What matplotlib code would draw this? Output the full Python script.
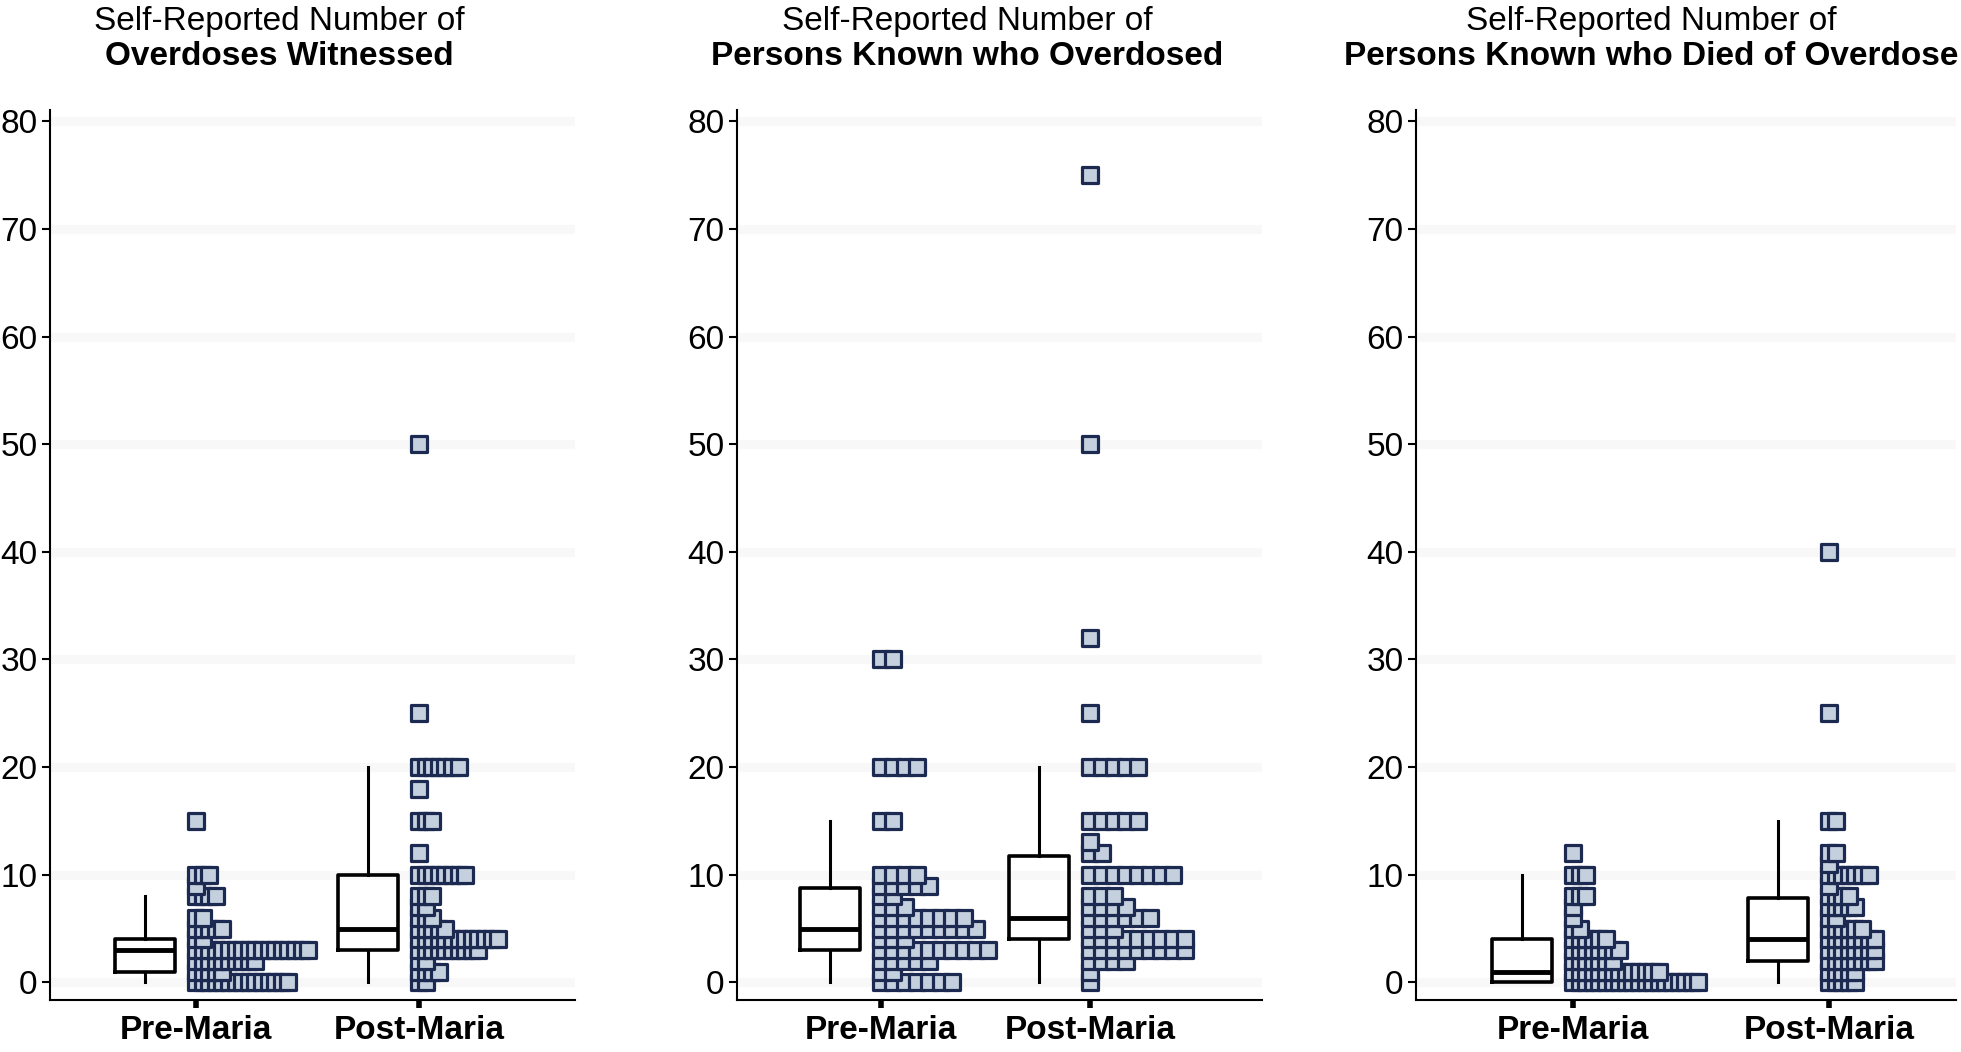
import matplotlib
matplotlib.use('Agg')
import matplotlib.pyplot as plt

plt.rcParams['font.family'] = ['Liberation Sans', 'DejaVu Sans']

# ---------------- data ----------------
categories = ['Pre-Maria', 'Post-Maria']
title_line1 = ['Self-Reported Number of', 'Self-Reported Number of', 'Self-Reported Number of']
title_line2 = ['Overdoses Witnessed', 'Persons Known who Overdosed',
               'Persons Known who Died of Overdose']
y_ticks = [0, 10, 20, 30, 40, 50, 60, 70, 80]

# panel 1: overdoses witnessed
p1_pre_values = [0, 1, 2, 3, 4, 5, 6, 8, 9, 10, 15]
p1_pre_counts = [15, 5, 10, 18, 2, 5, 2, 4, 1, 3, 1]
p1_post_values = [0, 1, 2, 3, 4, 5, 6, 7, 8, 10, 12, 15, 18, 20, 25, 50]
p1_post_counts = [2, 4, 2, 10, 13, 5, 3, 2, 3, 8, 1, 3, 1, 7, 1, 1]

# panel 2: persons known who overdosed
p2_pre_values = [0, 1, 2, 3, 4, 5, 6, 7, 8, 9, 10, 15, 20, 30]
p2_pre_counts = [7, 2, 5, 10, 3, 9, 8, 3, 2, 5, 4, 2, 4, 2]
p2_post_values = [0, 1, 2, 3, 4, 5, 6, 7, 8, 10, 12, 13, 15, 20, 25, 32, 50, 75]
p2_post_counts = [1, 1, 4, 9, 9, 3, 6, 4, 3, 8, 2, 1, 5, 5, 1, 1, 1, 1]

# panel 3: persons known who died of overdose
p3_pre_values = [0, 1, 2, 3, 4, 5, 6, 7, 8, 10, 12]
p3_pre_counts = [20, 14, 7, 8, 6, 2, 1, 1, 3, 3, 1]
p3_post_values = [0, 1, 2, 3, 4, 5, 6, 7, 8, 9, 10, 11, 12, 15, 25, 40]
p3_post_counts = [5, 5, 8, 8, 8, 6, 2, 5, 4, 1, 7, 1, 2, 2, 1, 1]

# box plot statistics [whisker low, q1, median, q3, whisker high]
p1_pre_box = [0, 1, 3, 4, 8]
p1_post_box = [0, 3, 5, 10, 20]
p2_pre_box = [0, 3, 5, 8.75, 15]
p2_post_box = [0, 4, 6, 11.75, 20]
p3_pre_box = [0, 0, 1, 4, 10]
p3_post_box = [0, 2, 4, 7.8, 15]

panels = [
    ((p1_pre_values, p1_pre_counts, p1_pre_box), (p1_post_values, p1_post_counts, p1_post_box)),
    ((p2_pre_values, p2_pre_counts, p2_pre_box), (p2_post_values, p2_post_counts, p2_post_box)),
    ((p3_pre_values, p3_pre_counts, p3_pre_box), (p3_post_values, p3_post_counts, p3_post_box)),
]

# ---------------- layout (pixels) ----------------
W, H = 1961, 1052
axis_left = [50, 737, 1416]
axis_right = [575, 1262, 1956]
pre_px = [196, 881, 1573]
post_px = [419, 1090, 1829]
step_px = [6.6, 11.9, 6.6]       # horizontal stacking step of the squares
title_cx = [279, 967, 1651]
ax_top_px, ax_bot_px = 110, 1000
ylim = (-1.63, 81.04)

fill_c = '#c5d0de'
edge_c = '#1c2a52'
grid_c = '#f8f8f8'

fig = plt.figure(figsize=(W / 100, H / 100), dpi=100)

for i, groups in enumerate(panels):
    left = axis_left[i]
    width = axis_right[i] - left
    ax = fig.add_axes([left / W, 1 - ax_bot_px / H, width / W, (ax_bot_px - ax_top_px) / H])
    ppu = post_px[i] - pre_px[i]          # pixels per category unit
    ax.set_xlim((left - pre_px[i]) / ppu, (axis_right[i] - pre_px[i]) / ppu)
    ax.set_ylim(*ylim)

    for v in y_ticks:
        ax.axhline(v, color=grid_c, lw=6.5, zorder=0)

    for pos, (vals, cnts, box) in enumerate(groups):
        xs, ys = [], []
        for v, c in zip(vals, cnts):
            for k in range(c):
                xs.append(pos + k * step_px[i] / ppu)
                ys.append(v)
        ax.scatter(xs, ys, marker='s', s=11.6 ** 2, facecolor=fill_c,
                   edgecolor=edge_c, linewidths=2.3, zorder=3, clip_on=False)
        stats = [dict(whislo=box[0], q1=box[1], med=box[2], q3=box[3],
                      whishi=box[4], fliers=[])]
        ax.bxp(stats, positions=[pos - 51 / ppu], widths=60 / ppu,
               showfliers=False, showcaps=False, manage_ticks=False,
               boxprops=dict(color='black', lw=2.6),
               medianprops=dict(color='black', lw=3.5),
               whiskerprops=dict(color='black', lw=2.2))

    for s in ['top', 'right']:
        ax.spines[s].set_visible(False)
    for s in ['left', 'bottom']:
        ax.spines[s].set_linewidth(1.5)
        ax.spines[s].set_color('black')

    ax.set_yticks(y_ticks)
    ax.set_yticklabels([str(t) for t in y_ticks])
    ax.tick_params(axis='y', labelsize=24, length=6, width=1.5, pad=3)
    ax.set_xticks([0, 1])
    ax.set_xticklabels(categories, fontsize=24, fontweight='bold')
    ax.tick_params(axis='x', length=6, width=4, pad=5)

    fig.text(title_cx[i] / W, 1 - 30 / H, title_line1[i], ha='center',
             va='baseline', fontsize=24)
    fig.text(title_cx[i] / W, 1 - 65 / H, title_line2[i], ha='center',
             va='baseline', fontsize=24, fontweight='bold')

fig.savefig('out.png', dpi=100)
